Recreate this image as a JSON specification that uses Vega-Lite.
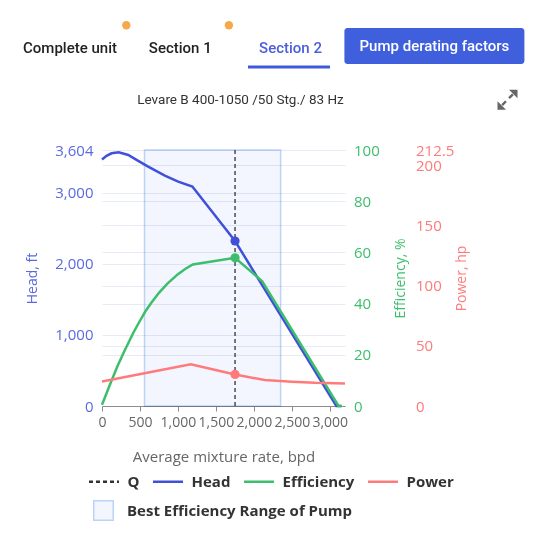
{
  "$schema": "https://vega.github.io/schema/vega-lite/v6.json",
  "padding": {"left": 23, "top": 0, "right": 0, "bottom": 0},
  "background": "#ffffff",
  "bounds": "flush",
  "spacing": 30,
  "datasets": {
    "header": [
      {"item": "Complete unit", "kind": "tab", "state": "inactive"},
      {"item": "Section 1", "kind": "tab", "state": "inactive"},
      {"item": "Section 2", "kind": "tab", "state": "active"},
      {"item": "Complete unit", "kind": "badge"},
      {"item": "Section 1", "kind": "badge"},
      {"item": "Pump derating factors", "kind": "button"},
      {"item": "Levare B 400-1050 /50 Stg./ 83 Hz", "kind": "title"},
      {"item": "expand", "kind": "icon"}
    ],
    "bep": [{"band": "Best Efficiency Range of Pump", "from": 560, "to": 2352}],
    "q": [{"series": "Q", "rate": 1752}],
    "markers": [
      {"series": "Head", "rate": 1752, "value": 2323},
      {"series": "Efficiency", "rate": 1752, "value": 57.9},
      {"series": "Power", "rate": 1752, "value": 26.2}
    ],
    "curves": [
      {"series": "Head", "rate": 0, "value": 3470},
      {"series": "Head", "rate": 60, "value": 3522},
      {"series": "Head", "rate": 126, "value": 3558},
      {"series": "Head", "rate": 220, "value": 3572},
      {"series": "Head", "rate": 346, "value": 3534},
      {"series": "Head", "rate": 477, "value": 3450},
      {"series": "Head", "rate": 608, "value": 3369},
      {"series": "Head", "rate": 828, "value": 3243},
      {"series": "Head", "rate": 1003, "value": 3158},
      {"series": "Head", "rate": 1190, "value": 3090},
      {"series": "Head", "rate": 1466, "value": 2713},
      {"series": "Head", "rate": 1752, "value": 2323},
      {"series": "Head", "rate": 3086, "value": 0},
      {"series": "Head", "rate": 3150, "value": 0},
      {"series": "Efficiency", "rate": 0, "value": 0.5},
      {"series": "Efficiency", "rate": 100, "value": 8},
      {"series": "Efficiency", "rate": 200, "value": 15.3},
      {"series": "Efficiency", "rate": 300, "value": 21.8},
      {"series": "Efficiency", "rate": 418, "value": 28.9},
      {"series": "Efficiency", "rate": 500, "value": 33.3},
      {"series": "Efficiency", "rate": 572, "value": 37},
      {"series": "Efficiency", "rate": 650, "value": 40.3},
      {"series": "Efficiency", "rate": 750, "value": 44.2},
      {"series": "Efficiency", "rate": 858, "value": 47.7},
      {"series": "Efficiency", "rate": 1000, "value": 51.5},
      {"series": "Efficiency", "rate": 1100, "value": 53.6},
      {"series": "Efficiency", "rate": 1196, "value": 55.3},
      {"series": "Efficiency", "rate": 1752, "value": 57.9},
      {"series": "Efficiency", "rate": 2110, "value": 48.7},
      {"series": "Efficiency", "rate": 3115, "value": 0},
      {"series": "Efficiency", "rate": 3160, "value": 0},
      {"series": "Power", "rate": 0, "value": 20.3},
      {"series": "Power", "rate": 1169, "value": 34.7},
      {"series": "Power", "rate": 1752, "value": 26.2},
      {"series": "Power", "rate": 2142, "value": 21.5},
      {"series": "Power", "rate": 2500, "value": 20.2},
      {"series": "Power", "rate": 2800, "value": 19.3},
      {"series": "Power", "rate": 3200, "value": 18.7}
    ]
  },
  "vconcat": [
    {
      "width": 243,
      "height": 120,
      "view": {"fill": "#ffffff", "stroke": null},
      "resolve": {"scale": {"x": "independent"}},
      "layer": [
        {
          "data": {"name": "header"},
          "transform": [{"filter": "datum.kind === 'tab'"}],
          "mark": {"type": "text", "font": "Roboto", "fontSize": 15, "fontWeight": 500, "baseline": "middle", "yOffset": -12},
          "encoding": {
            "x": {"field": "item", "type": "nominal", "scale": {"type": "point", "domain": ["Complete unit", "Section 1", "Section 2"], "range": [-32, 188.5], "padding": 0}, "axis": null},
            "text": {"field": "item"},
            "color": {"condition": {"test": "datum.state === 'active'", "value": "#4a5ee0"}, "value": "#222222"}
          }
        },
        {
          "data": {"name": "header"},
          "transform": [{"filter": "datum.kind === 'tab' && datum.state === 'active'"}],
          "mark": {"type": "tick", "orient": "horizontal", "size": 82, "thickness": 3, "color": "#3f5bdc", "opacity": 1, "yOffset": 7},
          "encoding": {
            "x": {"field": "item", "type": "nominal", "scale": {"type": "point", "domain": ["Complete unit", "Section 1", "Section 2"], "range": [-30.5, 187], "padding": 0}, "axis": null}
          }
        },
        {
          "data": {"name": "header"},
          "transform": [{"filter": "datum.kind === 'badge'"}],
          "mark": {"type": "circle", "size": 70, "color": "#f5a94b", "opacity": 1, "yOffset": -34.7},
          "encoding": {
            "x": {"field": "item", "type": "nominal", "scale": {"type": "point", "domain": ["Complete unit", "Section 1"], "range": [24.3, 126.9], "padding": 0}, "axis": null}
          }
        },
        {
          "data": {"name": "header"},
          "transform": [{"filter": "datum.kind === 'button'"}],
          "layer": [
            {
              "mark": {"type": "tick", "orient": "horizontal", "size": 180, "thickness": 36, "cornerRadius": 3, "color": "#3f5fdc", "opacity": 1, "yOffset": -14.1},
              "encoding": {
                "x": {"field": "item", "type": "nominal", "scale": {"type": "point", "domain": ["Pump derating factors"], "range": [332.4, 332.4], "padding": 0}, "axis": null}
              }
            },
            {
              "mark": {"type": "text", "font": "Roboto", "fontSize": 15, "fontWeight": 500, "baseline": "middle", "color": "#ffffff", "yOffset": -14.5},
              "encoding": {
                "x": {"field": "item", "type": "nominal", "scale": {"type": "point", "domain": ["Pump derating factors"], "range": [332.4, 332.4], "padding": 0}, "axis": null},
                "text": {"field": "item"}
              }
            }
          ]
        },
        {
          "data": {"name": "header"},
          "transform": [{"filter": "datum.kind === 'title'"}],
          "mark": {"type": "text", "font": "Roboto", "fontSize": 13.5, "baseline": "middle", "color": "#333333", "yOffset": 40},
          "encoding": {
            "x": {"field": "item", "type": "nominal", "scale": {"type": "point", "domain": ["Levare B 400-1050 /50 Stg./ 83 Hz"], "range": [138.5, 138.5], "padding": 0}, "axis": null},
            "text": {"field": "item"}
          }
        },
        {
          "data": {"name": "header"},
          "transform": [{"filter": "datum.kind === 'icon'"}],
          "mark": {"type": "point", "filled": true, "size": 400, "color": "#666666", "opacity": 1, "yOffset": 39.7,
            "shape": "M1,-1L0.15,-1L1,-0.15Z M0.62,-0.45L0.45,-0.62L0.07,-0.24L0.24,-0.07Z M-1,1L-0.15,1L-1,0.15Z M-0.62,0.45L-0.45,0.62L-0.07,0.24L-0.24,0.07Z"},
          "encoding": {
            "x": {"field": "item", "type": "nominal", "scale": {"type": "point", "domain": ["expand"], "range": [405.5, 405.5], "padding": 0}, "axis": null}
          }
        }
      ]
    },
    {
      "width": 243,
      "height": 256,
      "view": {"stroke": null},
      "layer": [
        {
          "data": {"name": "bep"},
          "mark": {"type": "rect", "blend": "multiply", "stroke": "#bcd3f7", "strokeWidth": 1.5, "strokeOpacity": 1, "fillOpacity": 1},
          "encoding": {
            "x": {"field": "from", "type": "quantitative", "title": "Average mixture rate, bpd",
              "scale": {"domain": [0, 3200], "nice": false, "zero": true},
              "axis": {"values": [0, 500, 1000, 1500, 2000, 2500, 3000], "format": ",.0f", "grid": false, "domain": true, "domainColor": "#8c8c8c", "ticks": true, "tickColor": "#8c8c8c", "tickSize": 5, "labelColor": "#666666", "labelFontSize": 14, "labelPadding": 4, "titleColor": "#666666", "titleFontSize": 15, "titleFontWeight": "normal", "titlePadding": 20, "labelFlush": false, "labelOverlap": false}},
            "x2": {"field": "to"},
            "fill": {"field": "band", "type": "nominal",
              "scale": {"domain": ["Best Efficiency Range of Pump"], "range": ["#f3f6fe"]},
              "legend": {"orient": "none", "legendX": -9, "legendY": 500, "direction": "horizontal", "title": null, "padding": 0,
                "labelFont": "Open Sans", "labelFontSize": 15, "labelFontWeight": "bold", "labelColor": "#333333", "labelOffset": 13, "labelLimit": 400,
                "symbolSize": 380, "symbolType": "square", "symbolStrokeColor": "#bcd3f7", "symbolStrokeWidth": 1.5, "symbolOpacity": 1}
            }
          }
        },
        {
          "data": {"name": "q"},
          "mark": {"type": "rule", "strokeWidth": 1.3},
          "encoding": {
            "x": {"field": "rate", "type": "quantitative", "title": "Average mixture rate, bpd", "scale": {"domain": [0, 3200], "nice": false, "zero": true}},
            "color": {"field": "series", "type": "nominal", "scale": {"domain": ["Q", "Head", "Efficiency", "Power"], "range": ["#333333", "#4050d8", "#3dbe6c", "#ff7a7a"]},
              "legend": {"orient": "none", "legendX": -14.5, "legendY": 465, "direction": "horizontal", "title": null, "padding": 0,
                "labelFont": "Open Sans", "labelFontSize": 15, "labelFontWeight": "bold", "labelColor": "#333333", "labelOffset": 7, "columnPadding": 8, "labelLimit": 400,
                "symbolSize": 900, "symbolType": "stroke", "symbolStrokeWidth": 2.5}},
            "strokeDash": {"field": "series", "type": "nominal", "scale": {"domain": ["Q", "Head", "Efficiency", "Power"], "range": [[4, 3], [1, 0], [1, 0], [1, 0]]},
              "legend": {"orient": "none", "legendX": -14.5, "legendY": 465, "direction": "horizontal", "title": null, "padding": 0,
                "labelFont": "Open Sans", "labelFontSize": 15, "labelFontWeight": "bold", "labelColor": "#333333", "labelOffset": 7, "columnPadding": 8, "labelLimit": 400,
                "symbolSize": 900, "symbolType": "stroke", "symbolStrokeWidth": 2.5}}
          }
        },
        {
          "layer": [
            {
              "data": {"name": "curves"},
              "transform": [{"filter": "datum.series === 'Head'"}],
              "mark": {"type": "line", "strokeWidth": 2.5},
              "encoding": {
                "x": {"field": "rate", "type": "quantitative", "title": "Average mixture rate, bpd", "scale": {"domain": [0, 3200], "nice": false, "zero": true}},
                "y": {"field": "value", "type": "quantitative", "title": "Head, ft", "scale": {"domain": [0, 3604], "nice": false},
                  "axis": {"orient": "left", "values": [0, 1000, 2000, 3000, 3604], "format": ",.0f", "grid": true, "gridColor": "#e6ebf5", "domain": false, "ticks": false, "tickSize": 0, "labelColor": "#5a6ae0", "labelFontSize": 15, "labelPadding": 9, "titleColor": "#5a6ae0", "titleFontSize": 14, "titleFontWeight": "normal", "titlePadding": 15, "labelFlush": false, "labelOverlap": false}},
                "color": {"field": "series", "type": "nominal"}
              }
            },
            {
              "data": {"name": "markers"},
              "transform": [{"filter": "datum.series === 'Head'"}],
              "mark": {"type": "circle", "size": 85, "opacity": 1},
              "encoding": {
                "x": {"field": "rate", "type": "quantitative", "title": "Average mixture rate, bpd", "scale": {"domain": [0, 3200], "nice": false, "zero": true}},
                "y": {"field": "value", "type": "quantitative", "title": "Head, ft", "scale": {"domain": [0, 3604], "nice": false}},
                "color": {"field": "series", "type": "nominal"}
              }
            }
          ]
        },
        {
          "layer": [
            {
              "data": {"name": "curves"},
              "transform": [{"filter": "datum.series === 'Efficiency'"}],
              "mark": {"type": "line", "strokeWidth": 2.5},
              "encoding": {
                "x": {"field": "rate", "type": "quantitative", "title": "Average mixture rate, bpd", "scale": {"domain": [0, 3200], "nice": false, "zero": true}},
                "y": {"field": "value", "type": "quantitative", "title": "Efficiency, %", "scale": {"domain": [0, 100], "nice": false},
                  "axis": {"orient": "right", "values": [0, 20, 40, 60, 80, 100], "format": ".0f", "grid": true, "gridColor": "#e6ebf5", "domain": false, "ticks": false, "tickSize": 0, "labelColor": "#3dbe6c", "labelFontSize": 15, "labelPadding": 8.5, "titleColor": "#3dbe6c", "titleFontSize": 14, "titleFontWeight": "normal", "titleAngle": 270, "titleBaseline": "top", "titlePadding": 14, "labelFlush": false, "labelOverlap": false}},
                "color": {"field": "series", "type": "nominal"}
              }
            },
            {
              "data": {"name": "markers"},
              "transform": [{"filter": "datum.series === 'Efficiency'"}],
              "mark": {"type": "circle", "size": 85, "opacity": 1},
              "encoding": {
                "x": {"field": "rate", "type": "quantitative", "title": "Average mixture rate, bpd", "scale": {"domain": [0, 3200], "nice": false, "zero": true}},
                "y": {"field": "value", "type": "quantitative", "title": "Efficiency, %", "scale": {"domain": [0, 100], "nice": false}},
                "color": {"field": "series", "type": "nominal"}
              }
            }
          ]
        },
        {
          "layer": [
            {
              "data": {"name": "curves"},
              "transform": [{"filter": "datum.series === 'Power'"}],
              "mark": {"type": "line", "strokeWidth": 2.5},
              "encoding": {
                "x": {"field": "rate", "type": "quantitative", "title": "Average mixture rate, bpd", "scale": {"domain": [0, 3200], "nice": false, "zero": true}},
                "y": {"field": "value", "type": "quantitative", "title": "Power, hp", "scale": {"domain": [0, 212.5], "nice": false},
                  "axis": {"orient": "right", "offset": 62, "values": [0, 50, 100, 150, 200, 212.5], "format": ".1~f", "grid": true, "gridColor": "#e6ebf5", "domain": false, "ticks": false, "tickSize": 0, "labelColor": "#ff7a7a", "labelFontSize": 15, "labelPadding": 8.5, "titleColor": "#ff7a7a", "titleFontSize": 14, "titleFontWeight": "normal", "titleAngle": 270, "titleBaseline": "top", "titlePadding": 1, "labelFlush": false, "labelOverlap": false}},
                "color": {"field": "series", "type": "nominal"}
              }
            },
            {
              "data": {"name": "markers"},
              "transform": [{"filter": "datum.series === 'Power'"}],
              "mark": {"type": "circle", "size": 85, "opacity": 1},
              "encoding": {
                "x": {"field": "rate", "type": "quantitative", "title": "Average mixture rate, bpd", "scale": {"domain": [0, 3200], "nice": false, "zero": true}},
                "y": {"field": "value", "type": "quantitative", "title": "Power, hp", "scale": {"domain": [0, 212.5], "nice": false}},
                "color": {"field": "series", "type": "nominal"}
              }
            }
          ]
        }
      ],
      "resolve": {"scale": {"y": "independent"}, "axis": {"y": "independent"}}
    }
  ],
  "config": {
    "font": "Open Sans",
    "view": {"stroke": null},
    "axis": {"labelFont": "Open Sans", "titleFont": "Open Sans"}
  }
}
